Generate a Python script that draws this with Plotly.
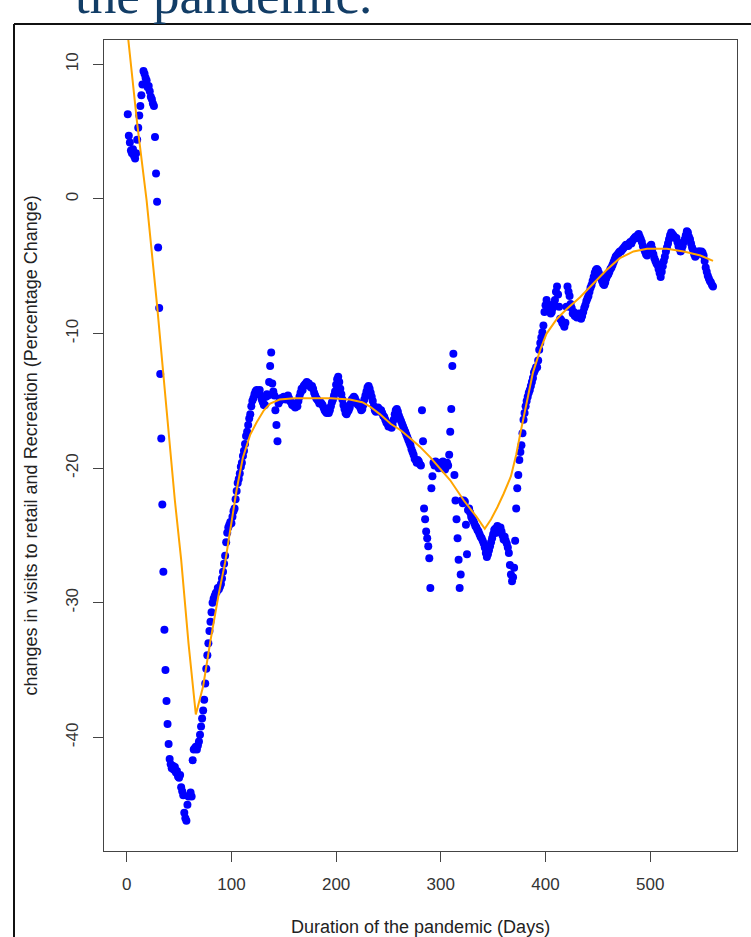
import plotly.graph_objects as go

# ---------------- data ----------------
retail_change = [
    6.3, 4.7, 4.2, 3.6, 3.4, 3.7, 3.2, 3.0, 3.4, 4.4,
    5.3, 6.2, 6.9, 7.7, 8.5, 9.5, 9.3, 9.0, 8.8, 8.3,
    8.4, 8.0, 7.6, 7.4, 7.1, 6.9, 4.6, 1.9, -0.2, -3.6,
    -8.1, -13.0, -17.8, -22.7, -27.7, -32.0, -35.0, -37.3, -39.0, -40.5,
    -41.6, -42.0, -42.3, -42.1, -42.4, -42.2, -42.6, -42.5, -42.9, -43.0,
    -42.8, -43.7, -44.0, -44.3, -45.6, -46.0, -46.2, -45.0, -44.4, -44.3,
    -44.1, -44.4, -41.7, -40.9, -40.8, -40.7, -40.9, -40.6, -40.3, -39.8,
    -39.2, -38.6, -38.0, -37.2, -36.0, -34.9, -33.9, -33.0, -32.1, -31.4,
    -30.7, -30.0, -29.7, -29.5, -29.3, -29.2, -28.9, -29.0, -28.8, -28.6,
    -28.2, -27.7, -27.1, -26.5, -25.5, -24.8, -24.4, -24.2, -24.0, -24.1,
    -23.6, -23.2, -23.0, -22.3, -21.7, -21.1, -20.8, -20.4, -19.9, -19.6,
    -19.1, -18.7, -18.2, -17.6, -17.3, -16.8, -16.3, -16.0, -15.4, -15.0,
    -14.8, -14.5, -14.3, -14.2, -14.3, -14.5, -14.2, -14.6, -14.9, -15.1,
    -15.3, -15.3, -14.7, -14.5, -14.6, -13.6, -12.4, -11.4, -13.7, -14.3,
    -14.6, -15.7, -16.8, -18.0, -15.2, -15.0, -14.8, -14.9, -14.8, -14.7,
    -14.8, -14.9, -14.7, -14.6, -14.8, -15.0, -15.1, -15.3, -15.2, -15.4,
    -15.5, -15.3, -15.4, -15.0, -14.7, -14.4, -14.1, -14.2, -13.9, -13.8,
    -13.7, -13.6, -13.8, -13.7, -13.9, -14.0, -13.9, -14.1, -14.4, -14.6,
    -14.8, -14.9, -15.0, -15.2, -15.1, -15.2, -15.3, -15.5, -15.7, -15.8,
    -15.9, -15.6, -15.9, -15.7, -15.4, -15.1, -14.9, -14.6, -14.3, -13.8,
    -13.4, -13.2, -13.6, -14.1, -14.5, -14.9, -15.3, -15.6, -15.9, -16.0,
    -15.8, -15.7, -15.5, -15.2, -14.9, -14.8, -14.7, -14.8, -15.0, -15.2,
    -15.3, -15.2, -15.5, -15.7, -15.6, -15.3, -14.9, -14.6, -14.3, -14.0,
    -13.9, -14.1, -14.4, -14.7, -15.0, -15.4, -15.7, -15.8, -15.6, -15.5,
    -15.6, -15.8, -15.7, -15.9, -16.1, -16.2, -16.4, -16.6, -16.7, -16.9,
    -16.7, -16.9, -17.0, -16.8, -16.4, -16.0, -15.7, -15.6, -15.8, -16.1,
    -16.3, -16.5, -16.7, -16.9, -17.1, -17.3, -17.5, -17.7, -17.9, -18.1,
    -18.3, -18.6, -18.8, -19.0, -19.3, -19.4, -19.6, -19.4, -19.5, -19.7,
    -19.8, -15.7, -18.0, -23.0, -23.8, -24.7, -25.2, -25.8, -26.7, -28.9,
    -21.5, -20.6, -19.6, -19.8, -19.5, -19.8, -19.7, -20.0, -19.9, -19.6,
    -19.7, -19.5, -19.8, -20.1, -19.9, -19.6, -19.8, -19.0, -17.3, -15.6,
    -12.4, -11.5, -20.5, -22.4, -23.8, -25.2, -26.8, -28.9, -27.9, -22.4,
    -22.6, -22.4, -22.5, -24.2, -26.4, -23.1, -23.0, -23.3, -23.6, -23.8,
    -23.9, -24.1, -24.3, -24.4, -24.6, -24.7, -24.9, -25.1, -25.2, -25.4,
    -25.6, -25.9, -26.3, -26.6, -26.4, -26.1, -25.8, -25.5, -25.2, -24.9,
    -24.6, -24.5, -24.8, -24.3, -24.4, -24.6, -24.4, -24.7, -25.0, -25.3,
    -25.1, -25.4, -25.6, -25.9, -26.3, -27.2, -27.9, -28.4, -28.1, -27.4,
    -25.4, -23.0, -21.5, -20.5, -19.4, -18.8, -18.3, -17.4, -16.4, -15.9,
    -15.4, -15.0, -14.7, -14.4, -14.2, -13.9, -13.6, -13.3, -12.9, -12.7,
    -12.5, -12.5, -12.0, -11.2, -10.7, -10.3, -9.9, -9.4, -8.4, -7.9,
    -7.5, -7.8, -8.0, -8.3, -8.5, -8.4, -8.1, -7.8, -7.5, -6.9,
    -6.5, -7.1, -8.0, -8.9, -9.0, -9.2, -9.3, -9.5, -9.2, -8.0,
    -6.5, -6.9, -7.2, -7.8, -8.1, -8.5, -8.4, -8.7, -8.6, -8.8,
    -8.6, -8.5, -8.8, -8.9, -8.7, -8.4, -8.1, -7.9, -7.6, -7.4,
    -7.2, -6.9, -6.6, -6.4, -6.1, -5.8, -5.5, -5.3, -5.2, -5.3,
    -5.5, -5.7, -5.9, -6.1, -6.3, -6.4, -6.2, -5.9, -5.7, -5.6,
    -5.4, -5.2, -5.1, -4.9, -4.7, -4.5, -4.3, -4.2, -4.1, -4.0,
    -3.9, -3.9, -3.8, -3.7, -3.6, -3.5, -3.4, -3.4, -3.5, -3.3,
    -3.2, -3.3, -3.1, -3.0, -2.9, -2.8, -2.9, -2.7, -2.6, -2.8,
    -3.0, -3.2, -3.5, -3.7, -3.9, -4.1, -4.2, -4.0, -3.7, -3.5,
    -3.4, -3.7, -4.1, -4.4, -4.6, -4.8, -4.9, -5.2, -5.5, -5.8,
    -5.4, -5.0, -4.6, -4.3, -3.9, -3.6, -3.3, -3.0, -2.7, -2.5,
    -2.6, -2.7, -2.8, -2.9, -2.9, -3.2, -3.5, -3.7, -3.9, -3.8,
    -3.5, -3.2, -3.0, -2.7, -2.4, -2.5, -2.8, -3.0, -3.3, -3.6,
    -3.8, -4.1, -4.3, -4.2, -4.0, -3.9, -3.9, -4.0, -3.9, -4.0,
    -4.2, -4.6, -5.1, -5.4, -5.7, -5.9, -6.1, -6.2, -6.4, -6.5,
]
days = list(range(1, len(retail_change) + 1))

smooth_days = [1, 10, 19, 29, 38, 46, 52, 59, 66, 73, 80, 88, 94, 99, 105,
               111, 118, 124, 131, 137, 146, 160, 175, 195, 213, 225, 232,
               242, 252, 262, 271, 280, 290, 300, 309, 322, 334, 342, 348,
               354, 360, 367, 372, 376, 382, 388, 395, 401, 411, 420, 433,
               446, 458, 471, 484, 497, 516, 532, 548, 560]
smooth_values = [12.2, 5.6, -0.1, -7.9, -15.6, -22.4, -26.8, -33.0, -38.3,
                 -36.2, -32.8, -29.3, -27.0, -24.6, -21.6, -19.2, -17.5,
                 -16.6, -15.7, -15.2, -14.9, -14.8, -14.8, -14.8, -14.9,
                 -15.1, -15.4, -16.0, -16.7, -17.2, -17.8, -18.4, -19.2,
                 -20.1, -20.9, -22.4, -23.6, -24.5, -23.8, -22.9, -21.9,
                 -20.6, -19.0, -17.4, -15.2, -12.9, -11.2, -10.0, -8.9,
                 -8.2, -7.3, -6.3, -5.3, -4.4, -3.9, -3.7, -3.7, -3.9,
                 -4.2, -4.6]

x_ticks = [0, 100, 200, 300, 400, 500]
x_tick_labels = ["0", "100", "200", "300", "400", "500"]
y_ticks = [-40, -30, -20, -10, 0, 10]
y_tick_labels = ["-40", "-30", "-20", "-10", "0", "10"]

# ---------------- figure ----------------
W, H = 751, 937
L, R, T, B = 104, 14, 40, 86
pw, ph = W - L - R, H - T - B

def px2paper_x(px):
    return (px - L) / pw

def px2paper_y(py):
    return (H - B - py) / ph

fig = go.Figure()
fig.add_trace(go.Scatter(
    x=days, y=retail_change, mode="markers",
    marker=dict(color="#0000FF", size=8, line=dict(width=0)),
    showlegend=False, hoverinfo="skip"))
fig.add_trace(go.Scatter(
    x=smooth_days, y=smooth_values, mode="lines",
    line=dict(color="#FFA500", width=2),
    showlegend=False, hoverinfo="skip"))

axis_common = dict(
    showgrid=False, zeroline=False, showline=True, mirror=True,
    linecolor="#444444", linewidth=1, ticks="outside", ticklen=10,
    tickcolor="#444444", tickwidth=1,
    tickfont=dict(family="Liberation Sans, Arial, sans-serif", size=17, color="#333333"),
)

fig.update_xaxes(range=[-21.7, 582.9], tickvals=x_ticks, ticktext=x_tick_labels,
                 ticklabelstandoff=8, **axis_common)
fig.update_yaxes(range=[-48.44, 11.81], tickvals=y_ticks, ticktext=y_tick_labels,
                 tickangle=-90, ticklabelstandoff=8, **axis_common)

fig.add_annotation(
    text="the pandemic.", xref="paper", yref="paper",
    x=px2paper_x(73), y=px2paper_y(25.7), xanchor="left", yanchor="bottom",
    showarrow=False,
    font=dict(family="Liberation Serif, Times New Roman, serif", size=53, color="#123D66"))
fig.add_annotation(
    text="Duration of the pandemic (Days)", xref="paper", yref="paper",
    x=0.5, y=px2paper_y(927), xanchor="center", yanchor="middle", showarrow=False,
    font=dict(family="Liberation Sans, Arial, sans-serif", size=18, color="#222222"))
fig.add_annotation(
    text="changes in visits to retail and Recreation (Percentage Change)",
    xref="paper", yref="paper", x=px2paper_x(30), y=0.5, textangle=-90,
    xanchor="center", yanchor="middle", showarrow=False,
    font=dict(family="Liberation Sans, Arial, sans-serif", size=18, color="#222222"))

# outer slide frame (left and top edges visible)
fx, fy = px2paper_x(14), px2paper_y(24)
fig.add_shape(type="line", xref="paper", yref="paper", x0=fx, y0=fy, x1=fx, y1=-0.3,
              line=dict(color="#111111", width=2))
fig.add_shape(type="line", xref="paper", yref="paper", x0=fx, y0=fy, x1=1.3, y1=fy,
              line=dict(color="#111111", width=2))

fig.update_layout(
    width=W, height=H, margin=dict(l=L, r=R, t=T, b=B, autoexpand=False),
    paper_bgcolor="white", plot_bgcolor="white",
)

fig.write_html(
    "out.html",
    config={"displayModeBar": False},
    post_script="document.body.style.margin='0';document.body.style.padding='0';"
                "document.body.style.overflow='hidden';",
)
